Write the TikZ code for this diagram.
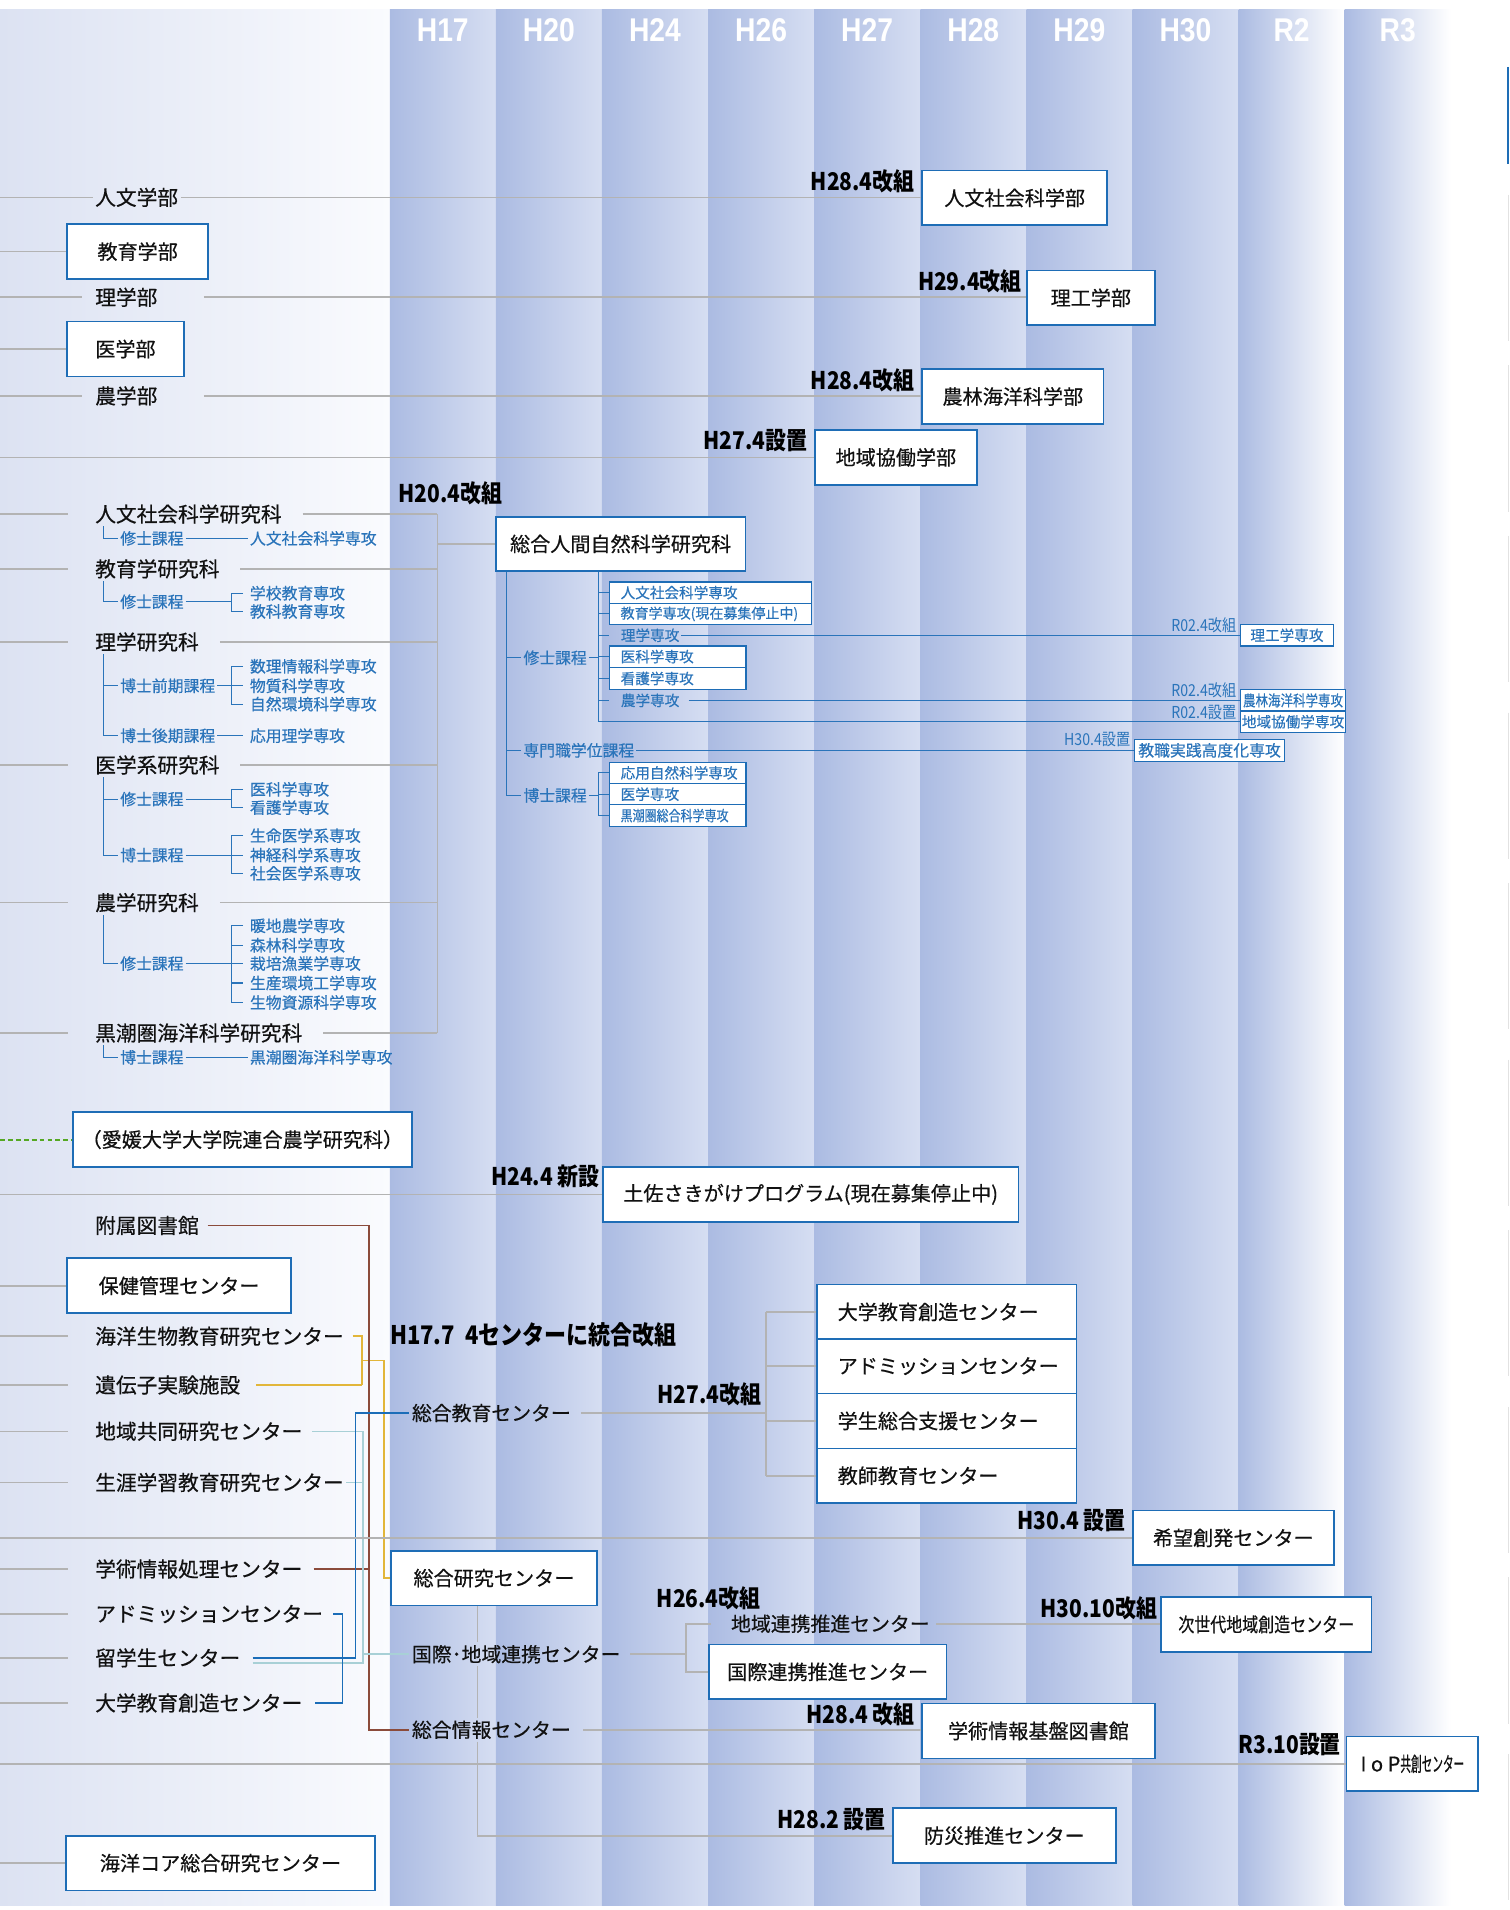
\documentclass[tikz,border=0pt]{standalone}
\usepackage{fontspec}
\setmainfont{Noto Sans CJK JP}[FakeBold=0.45]
\newfontfamily\jpcond{Noto Sans CJK JP}[FakeStretch=0.82,FakeBold=0.45]
\newfontfamily\jpnarrow{Noto Sans CJK JP}[FakeStretch=0.53,FakeBold=0.45]
\newfontfamily\yearfont{Noto Sans CJK JP}[FakeStretch=0.86]
\newfontfamily\headfont{Liberation Sans}[FakeStretch=0.86]
\usetikzlibrary{calc}

\definecolor{lineGray}{HTML}{B3B3B3}
\definecolor{boxBlue}{HTML}{1E6DB6}
\definecolor{crsBlue}{HTML}{2A74BA}
\definecolor{colDark}{HTML}{ABBBE2}
\definecolor{colLight}{HTML}{D6DEF2}
\definecolor{leftA}{HTML}{DCE2F2}
\definecolor{leftB}{HTML}{FAFBFE}
\definecolor{lineTeal}{HTML}{A8D0D6}
\definecolor{lineYellow}{HTML}{E2B63A}
\definecolor{lineBrown}{HTML}{8B4B3B}
\definecolor{lineBlue}{HTML}{1B6DB8}
\definecolor{dashGreen}{HTML}{55A823}
\definecolor{edgeGray}{HTML}{E2E2E2}
\definecolor{txtBlack}{HTML}{111111}

\begin{document}
\begin{tikzpicture}[x=1pt,y=1pt,yscale=-1,xscale=1,
  lbl/.style={anchor=west,inner sep=2pt,text=txtBlack,font=\fontsize{17}{19}\selectfont},
  mlbl/.style={lbl,font=\fontsize{16.3}{18}\selectfont},
  bx/.style={draw=boxBlue,line width=1.4pt,fill=white,minimum height=45pt,inner sep=2pt,text=txtBlack,font=\fontsize{16.5}{18}\selectfont},
  bxl/.style={bx,anchor=west,align=left,inner xsep=17pt,text width=#1},
  sbx/.style={draw=boxBlue,line width=1pt,fill=white,minimum height=17.5pt,inner ysep=0pt,inner xsep=9pt,anchor=west,align=left,text=crsBlue,font=\fontsize{12}{13}\selectfont,text width=#1},
  sbc/.style={draw=boxBlue,line width=1pt,fill=white,minimum height=17.5pt,inner ysep=0pt,inner xsep=1pt,anchor=west,text=crsBlue,font=\fontsize{12}{13}\selectfont,minimum width=#1},
  crs/.style={anchor=west,inner sep=1.5pt,text=crsBlue,font=\fontsize{13}{14}\selectfont},
  yr/.style={anchor=east,inner sep=0pt,text=black,font=\yearfont\bfseries\fontsize{20}{22}\selectfont},
  syr/.style={anchor=east,inner sep=0pt,text=crsBlue,font=\yearfont\fontsize{13.5}{14}\selectfont},
  hd/.style={text=white,font=\headfont\bfseries\fontsize{27}{28}\selectfont},
  gline/.style={draw=lineGray,line width=1.3pt},
  bline/.style={draw=crsBlue,line width=0.9pt},
  tick/.style={bline,shorten <=4pt,shorten >=4pt},
  yline/.style={draw=lineYellow,line width=1.3pt},
  rline/.style={draw=lineBrown,line width=1.3pt},
  tline/.style={draw=lineTeal,line width=1.3pt},
  uline/.style={draw=lineBlue,line width=1.3pt},
  gdash/.style={draw=dashGreen,line width=1.7pt,dash pattern=on 4pt off 2.5pt}]
\useasboundingbox (0,0) rectangle (1239,1568);
\fill[white] (0,0) rectangle (1239,1568);

%Background: left area and year columns
\fill[left color=leftA,right color=leftB] (0,8) rectangle (320,1564);
\foreach \yr [count=\i from 0] in {H17,H20,H24,H26,H27,H28,H29,H30} {
  \fill[left color=colDark,right color=colLight] (320+87.1*\i,8) rectangle ++(87.1,1556);
  \node[hd] (hd\yr) at (363.5+87.1*\i,25) {\yr};
}
\foreach \yr [count=\i from 8] in {R2,R3} {
  \fill[left color=colDark,right color=white] (320+87.1*\i,8) rectangle ++(87.1,1556);
  \node[hd] (hd\yr) at (363.5+87.1*\i,25) {\yr};
}
%cut edge on the right
\draw[boxBlue,line width=1.6pt] (1238,55) -- (1238,135);
\foreach \y in {160,300,440,585,725,870,1010,1155,1295,1440}
  \draw[edgeGray,line width=0.8pt] (1238,\y) -- ++(0,120);

\coordinate (L) at (0,0);

% Text Node: faculties
\node[lbl] (fHum) at (76,162) {人文学部};
\node[bx,minimum width=116pt] (fEdu) at (113,206.5) {教育学部};
\node[lbl] (fSci) at (76,244) {理学部};
\node[bx,minimum width=96pt] (fMed) at (103,286.5) {医学部};
\node[lbl] (fAgr) at (76,325) {農学部};
\node[bx,minimum width=152pt] (fHSS) at (833,162.5) {人文社会科学部};
\node[bx,minimum width=105pt] (fSE) at (895.5,244.5) {理工学部};
\node[bx,minimum width=149pt] (fAMS) at (831.5,325.5) {農林海洋科学部};
\node[bx,minimum width=133pt] (fRC) at (735.5,375.5) {地域協働学部};
\node[yr] (yF1) at (751,149) {H28.4改組};
\node[yr] (yF2) at (839,231) {H29.4改組};
\node[yr] (yF3) at (751,312) {H28.4改組};
\node[yr] (yF4) at (663,362) {H27.4設置};

%Straight Lines: faculties
\draw[gline] (L |- fHum) -- (fHum.west);
\draw[gline] (fHum.east) -- (fHum.east -| fHSS.west);
\draw[gline] (L |- fEdu) -- (fEdu.west);
\draw[gline,shorten >=9pt] (L |- fSci) -- (fSci.west);
\draw[gline,shorten <=36pt] (fSci.east) -- (fSci.east -| fSE.west);
\draw[gline] (L |- fMed) -- (fMed.west);
\draw[gline,shorten >=9pt] (L |- fAgr) -- (fAgr.west);
\draw[gline,shorten <=36pt] (fAgr.east) -- (fAgr.east -| fAMS.west);
\draw[gline] (L |- fRC) -- (fRC.west);

% Text Node: graduate schools
\node[yr,anchor=west] (yG1) at (327,405) {H20.4改組};
\node[lbl] (gHSS) at (76,422) {人文社会科学研究科};
\node[lbl] (gEdu) at (76,467) {教育学研究科};
\node[lbl] (gSci) at (76,527) {理学研究科};
\node[lbl] (gMed) at (76,628) {医学系研究科};
\node[lbl] (gAgr) at (76,741) {農学研究科};
\node[lbl] (gKur) at (76,848) {黒潮圏海洋科学研究科};
\node[bx,minimum width=205pt,minimum height=44pt] (gInt) at (509.5,446.5) {総合人間自然科学研究科};

\coordinate (gB) at (359,0);
\foreach \g in {gHSS,gEdu,gSci,gMed,gAgr,gKur} {
  \draw[gline,shorten >=20pt] (L |- \g) -- (\g.west);
  \draw[gline,shorten <=15pt] (\g.east) -- (\g.east -| gB);
}
\draw[gline] (gB |- gHSS) -- (gB |- gKur);
\draw[gline] (gB |- gInt) -- (gInt.west);

% Text Node: courses and majors
\coordinate (tk) at (85,0);
\coordinate (bk) at (190,0);
\node[crs] (cHssM) at (97,442) {修士課程};
\node[crs] (cHssJ) at (203.5,442) {人文社会科学専攻};
\draw[bline] (tk |- gHSS.south) |- (cHssM.west);
\draw[bline] (cHssM.east) -- (cHssJ.west);

\node[crs] (cEduM) at (97,494) {修士課程};
\node[crs] (cEdu1) at (203.5,487) {学校教育専攻};
\node[crs] (cEdu2) at (203.5,502) {教科教育専攻};
\draw[bline] (tk |- gEdu.south) |- (cEduM.west);
\draw[bline] (cEduM.east) -- (bk |- cEduM);
\draw[tick] (cEdu1.west) -| (bk |- cEdu2) -- (cEdu2.west);

\node[crs] (cSciA) at (97,563) {博士前期課程};
\node[crs] (cSciB) at (97,604) {博士後期課程};
\node[crs] (cSci1) at (203.5,547) {数理情報科学専攻};
\node[crs] (cSci2) at (203.5,563) {物質科学専攻};
\node[crs] (cSci3) at (203.5,578) {自然環境科学専攻};
\node[crs] (cSci4) at (203.5,604) {応用理学専攻};
\draw[bline] (tk |- gSci.south) |- (cSciB.west);
\draw[bline] (tk |- cSciA) -- (cSciA.west);
\draw[bline,shorten >=4pt] (cSciA.east) -- (cSci2.west);
\draw[tick] (cSci1.west) -| (bk |- cSci3) -- (cSci3.west);
\draw[bline,shorten >=4pt] (cSciB.east) -- (cSci4.west);

\node[crs] (cMedM) at (97,656) {修士課程};
\node[crs] (cMedD) at (97,702) {博士課程};
\node[crs] (cMed1) at (203.5,648) {医科学専攻};
\node[crs] (cMed2) at (203.5,663) {看護学専攻};
\node[crs] (cMed3) at (203.5,686) {生命医学系専攻};
\node[crs] (cMed4) at (203.5,702) {神経科学系専攻};
\node[crs] (cMed5) at (203.5,717) {社会医学系専攻};
\draw[bline] (tk |- gMed.south) |- (cMedD.west);
\draw[bline] (tk |- cMedM) -- (cMedM.west);
\draw[bline] (cMedM.east) -- (bk |- cMedM);
\draw[tick] (cMed1.west) -| (bk |- cMed2) -- (cMed2.west);
\draw[bline,shorten >=4pt] (cMedD.east) -- (cMed4.west);
\draw[tick] (cMed3.west) -| (bk |- cMed5) -- (cMed5.west);

\node[crs] (cAgrM) at (97,791) {修士課程};
\node[crs] (cAgr1) at (203.5,760) {暖地農学専攻};
\node[crs] (cAgr2) at (203.5,776) {森林科学専攻};
\node[crs] (cAgr3) at (203.5,791) {栽培漁業学専攻};
\node[crs] (cAgr4) at (203.5,807) {生産環境工学専攻};
\node[crs] (cAgr5) at (203.5,823) {生物資源科学専攻};
\draw[bline] (tk |- gAgr.south) |- (cAgrM.west);
\draw[bline,shorten >=4pt] (cAgrM.east) -- (cAgr3.west);
\draw[tick] (cAgr1.west) -| (bk |- cAgr5) -- (cAgr5.west);
\draw[bline,shorten >=4pt] (bk |- cAgr2) -- (cAgr2.west);
\draw[bline,shorten >=4pt] (bk |- cAgr4) -- (cAgr4.west);

\node[crs] (cKurD) at (97,868) {博士課程};
\node[crs] (cKurJ) at (203.5,868) {黒潮圏海洋科学専攻};
\draw[bline] (tk |- gKur.south) |- (cKurD.west);
\draw[bline] (cKurD.east) -- (cKurJ.west);

% Text Node: integrated graduate school
\coordinate (iT) at (416,0);
\coordinate (jT) at (491,0);
\node[crs] (iM) at (428,540) {修士課程};
\node[crs] (iP) at (428,616) {専門職学位課程};
\node[crs] (iD) at (428,653) {博士課程};
\draw[bline] (iT |- gInt.south) |- (iD.west);
\draw[bline] (iT |- iM) -- (iM.west);
\draw[bline] (iT |- iP) -- (iP.west);
\draw[bline] (iM.east) -- (jT |- iM);
\draw[bline] (iD.east) -- (jT |- iD);

\node[sbx=148pt] (jHSS) at (500,486.5) {人文社会科学専攻};
\node[sbx=148pt,font=\fontsize{11.5}{12}\selectfont] (jEdu) at (500,504) {教育学専攻(現在募集停止中)};
\node[crs,font=\fontsize{12}{13}\selectfont] (jSci) at (508,521.5) {理学専攻};
\node[sbx=94pt] (jMed) at (500,539) {医科学専攻};
\node[sbx=94pt] (jNur) at (500,557) {看護学専攻};
\node[crs,font=\fontsize{12}{13}\selectfont] (jAgr) at (508,575) {農学専攻};
\node[sbx=94pt] (dApp) at (500,634.5) {応用自然科学専攻};
\node[sbx=94pt] (dMed) at (500,652) {医学専攻};
\node[sbx=94pt,font=\jpcond\fontsize{12}{13}\selectfont] (dKur) at (500,669.5) {黒潮圏総合科学専攻};

\node[sbc=76pt] (rSE) at (1018,521.5) {理工学専攻};
\node[sbc=86pt,font=\jpcond\fontsize{12.5}{13}\selectfont] (rAMS) at (1018,575) {農林海洋科学専攻};
\node[sbc=86pt] (rRC) at (1018,592.5) {地域協働学専攻};
\node[sbc=123pt,minimum height=18pt,font=\fontsize{13}{14}\selectfont] (rTP) at (931,616) {教職実践高度化専攻};
\node[syr] (sY1) at (1015,513) {R02.4改組};
\node[syr] (sY2) at (1015,567) {R02.4改組};
\node[syr] (sY3) at (1015,585) {R02.4設置};
\node[syr] (sY4) at (928,607) {H30.4設置};

\draw[bline] (jT |- gInt.south) |- (rRC.west);
\foreach \m in {jHSS,jEdu,jMed,jNur} \draw[bline] (jT |- \m) -- (\m.west);
\draw[bline,shorten >=8pt] (jT |- jSci) -- (jSci.west);
\draw[bline,shorten >=8pt] (jT |- jAgr) -- (jAgr.west);
\draw[bline] (jSci.east) -- (rSE.west);
\draw[bline,shorten <=6pt] (jAgr.east) -- (rAMS.west);
\draw[bline] (iP.east) -- (rTP.west);
\draw[bline] (jT |- dApp) -- (jT |- dKur);
\foreach \m in {dApp,dMed,dKur} \draw[bline] (jT |- \m) -- (\m.west);

% Text Node: joint school and program
\node[bx,minimum width=278pt] (ehime) at (199,935.5) {（愛媛大学大学院連合農学研究科）};
\draw[gdash] (L |- ehime) -- (ehime.west);
\node[bx,minimum width=341pt] (tosa) at (665.5,980.5) {土佐さきがけプログラム(現在募集停止中)};
\draw[gline] (L |- tosa) -- (tosa.west);
\node[yr] (yP1) at (492,966) {H24.4\,新設};

% Text Node: centers
\node[lbl] (cLib) at (76,1006) {附属図書館};
\node[bx,minimum width=184pt] (cHlt) at (147,1055.5) {保健管理センター};
\node[lbl] (cMar) at (76,1097) {海洋生物教育研究センター};
\node[lbl] (cGen) at (76,1137) {遺伝子実験施設};
\node[lbl] (cReg) at (76,1175) {地域共同研究センター};
\node[lbl] (cLlr) at (76,1217) {生涯学習教育研究センター};
\node[lbl] (cInf) at (76,1288) {学術情報処理センター};
\node[lbl] (cAdm) at (76,1325) {アドミッションセンター};
\node[lbl] (cIst) at (76,1361) {留学生センター};
\node[lbl] (cUed) at (76,1398) {大学教育創造センター};
\node[bx,minimum width=254pt] (cCore) at (181,1529.5) {海洋コア総合研究センター};
\foreach \c in {cMar,cGen,cReg,cLlr,cInf,cAdm,cIst,cUed}
  \draw[gline,shorten >=20pt] (L |- \c) -- (\c.west);
\foreach \c in {cHlt,cCore} \draw[gline] (L |- \c) -- (\c.west);

\node[yr,anchor=west,font=\yearfont\bfseries\fontsize{21}{23}\selectfont] (yC1) at (320,1096) {H17.7\ \ 4センターに統合改組};
\node[mlbl] (zEdu) at (336,1160) {総合教育センター};
\node[bx,minimum width=169pt] (zRes) at (405.5,1295.5) {総合研究センター};
\node[mlbl] (zIst) at (336,1358) {国際･地域連携センター};
\node[mlbl] (zInf) at (336,1420) {総合情報センター};

%Straight Lines: merging of the old centers
\coordinate (yA) at (297,0);
\coordinate (yB) at (315,0);
\coordinate (yM) at ($(cMar.east)!.5!(cGen.east)$);
\draw[yline,shorten <=5pt] (cMar.east) -| (yA |- cGen);
\draw[yline,shorten >=11pt] (yA |- cGen) -- (cGen.east);
\draw[yline] (yA |- yM) -| (yB |- zRes) -- (zRes.west);

\coordinate (rA) at (303,0);
\draw[rline,shorten <=5pt] (cLib.east) -| (rA |- zInf) -- (zInf.west);
\draw[rline,shorten <=7pt] (cInf.east) -- (rA |- cInf);

\coordinate (tA) at (298,0);
\coordinate (tY) at (0,1365);
\draw[tline,shorten <=8pt] (cIst.east |- tY) -| (tA |- cReg);
\draw[tline,shorten >=6pt] (tA |- cReg) -- (cReg.east);
\draw[tline] (tA |- cLlr) -- (cLlr.east);
\draw[tline] (tA |- zIst) -- (zIst.west);

\coordinate (uA) at (292,0);
\coordinate (uB) at (281,0);
\draw[uline,shorten <=8pt] (cIst.east) -| (uA |- zEdu) -- (zEdu.west);
\draw[uline,shorten <=6pt,shorten >=8pt] (cAdm.east) -| (uB |- cUed) -- (cUed.east);

% Text Node: later reorganisations
\coordinate (eA) at (629,0);
\node[bxl=179pt] (eUed) at (670,1077) {大学教育創造センター};
\node[bxl=179pt] (eAdm) at (670,1121.5) {アドミッションセンター};
\node[bxl=179pt] (eSup) at (670,1166.5) {学生総合支援センター};
\node[bxl=179pt] (eTch) at (670,1211.5) {教師教育センター};
\node[yr] (yC2) at (625,1145) {H27.4改組};
\draw[gline,shorten <=6pt] (zEdu.east) -- (eA |- zEdu);
\draw[gline] (eA |- eUed) -- (eA |- eTch);
\foreach \e in {eUed,eAdm,eSup,eTch} \draw[gline] (eA |- \e) -- (\e.west);

\node[bx,minimum width=165pt] (kibo) at (1012.5,1262.5) {希望創発センター};
\node[yr] (yC3) at (924,1248) {H30.4\,設置};
\draw[gline] (L |- kibo) -- (kibo.west);

\node[bx,minimum width=183pt] (bosai) at (824.5,1507) {防災推進センター};
\node[yr] (yC4) at (727,1494) {H28.2\,設置};
\coordinate (sA) at (392,0);
\draw[gline] (sA |- zRes.south) -- (sA |- zIst.north);
\draw[gline] (sA |- zIst.south) -- (sA |- zInf.north);
\draw[gline] (sA |- zInf.south) |- (bosai.west);

\coordinate (kA) at (563,0);
\node[mlbl] (kReg) at (598,1333) {地域連携推進センター};
\node[bx,minimum width=195pt] (kIst) at (679.5,1372.5) {国際連携推進センター};
\node[yr,anchor=west] (yC5) at (539,1312) {H26.4改組};
\draw[gline,shorten <=6pt] (zIst.east) -- (kA |- zIst);
\draw[gline,shorten >=14pt] (kIst.west) -| (kA |- kReg) -- (kReg.west);

\node[bx,minimum width=173pt,font=\jpcond\fontsize{16}{18}\selectfont] (jise) at (1039.5,1333.5) {次世代地域創造センター};
\node[yr] (yC6) at (950,1320) {H30.10改組};
\draw[gline,shorten <=3pt] (kReg.east) -- (kReg.east -| jise.west);

\node[bx,minimum width=191pt] (lib) at (852.5,1421) {学術情報基盤図書館};
\node[yr] (yC7) at (751,1407) {H28.4\,改組};
\draw[gline,shorten <=8pt] (zInf.east) -- (zInf.east -| lib.west);

\node[bx,minimum width=108pt] (iop) at (1159.5,1448) {I o P{\jpnarrow 共創センター}};
\node[yr] (yC8) at (1101,1432) {R3.10設置};
\draw[gline] (L |- iop) -- (iop.west);

\end{tikzpicture}
\end{document}
